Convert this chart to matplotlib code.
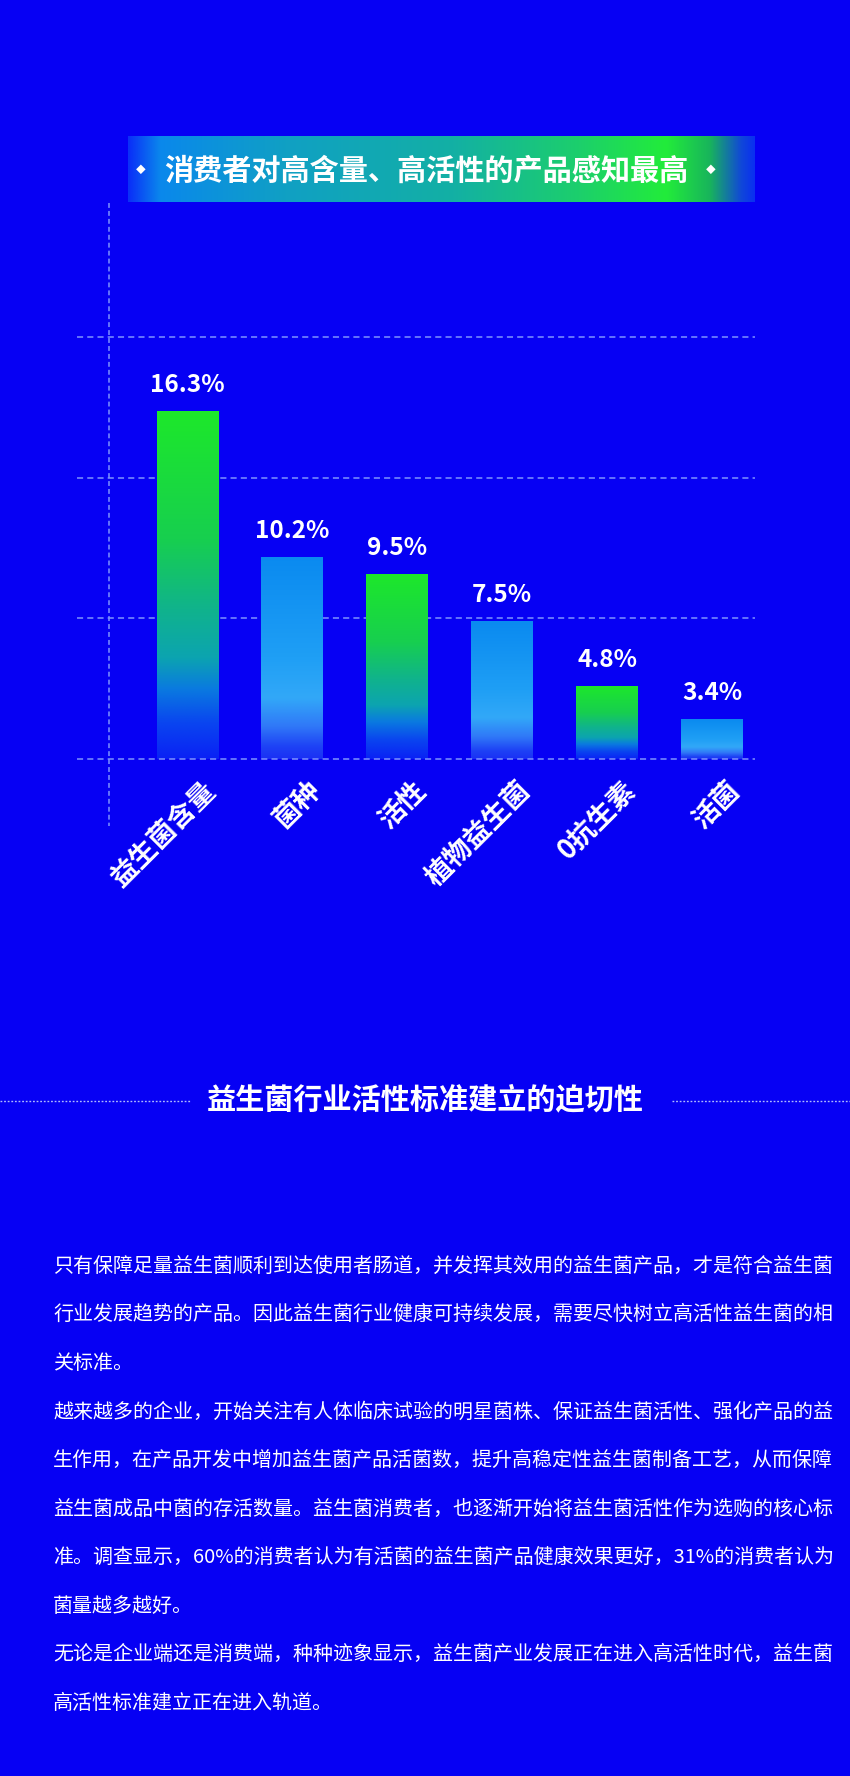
import numpy as np
import matplotlib
matplotlib.use('Agg')
import matplotlib.pyplot as plt
from matplotlib.colors import LinearSegmentedColormap
from matplotlib import transforms
from matplotlib.lines import Line2D

plt.rcParams['font.family'] = ['Noto Sans CJK SC', 'DejaVu Sans']

## chart data
categories = ['益生菌含量', '菌种', '活性', '植物益生菌', '0抗生素', '活菌']
values = [16.3, 10.2, 9.5, 7.5, 4.8, 3.4]
value_labels = ['16.3%', '10.2%', '9.5%', '7.5%', '4.8%', '3.4%']
bar_styles = ['green', 'blue', 'green', 'blue', 'green', 'blue']

## texts
title_text = '消费者对高含量、高活性的产品感知最高'
heading_text = '益生菌行业活性标准建立的迫切性'
body_lines = [
    '只有保障足量益生菌顺利到达使用者肠道，并发挥其效用的益生菌产品，才是符合益生菌',
    '行业发展趋势的产品。因此益生菌行业健康可持续发展，需要尽快树立高活性益生菌的相',
    '关标准。',
    '越来越多的企业，开始关注有人体临床试验的明星菌株、保证益生菌活性、强化产品的益',
    '生作用，在产品开发中增加益生菌产品活菌数，提升高稳定性益生菌制备工艺，从而保障',
    '益生菌成品中菌的存活数量。益生菌消费者，也逐渐开始将益生菌活性作为选购的核心标',
    '准。调查显示，60%的消费者认为有活菌的益生菌产品健康效果更好，31%的消费者认为',
    '菌量越多越好。',
    '无论是企业端还是消费端，种种迹象显示，益生菌产业发展正在进入高活性时代，益生菌',
    '高活性标准建立正在进入轨道。',
]

W, H = 850, 1776
bg = '#0600f4'
grid_c = '#7d93ff'

def fx(px):
    return px / W

def fy(py):
    return 1 - py / H

fig = plt.figure(figsize=(W / 100, H / 100), dpi=100, facecolor=bg)

## gradients
cmaps = {
    'green': LinearSegmentedColormap.from_list('g', [
        (0.0, '#0a22f5'), (0.1, '#0a44f0'), (0.2, '#0a7ae0'), (0.29, '#0ca4b0'),
        (0.43, '#10b38c'), (0.63, '#17cf4f'), (1.0, '#1de82a')]),
    'blue': LinearSegmentedColormap.from_list('b', [
        (0.0, '#1a30f5'), (0.06, '#1e42f5'), (0.16, '#3078f8'), (0.3, '#32a8f8'),
        (0.5, '#1f9ff5'), (1.0, '#0a8af0')]),
}
banner_cmap = LinearSegmentedColormap.from_list('t', [
    (0.0, '#0a30f8'), (0.05, '#0a88ec'), (0.25, '#10a0c4'), (0.52, '#13b0a4'),
    (0.72, '#1ccf6c'), (0.86, '#22ec3a'), (0.93, '#18b45c'), (0.98, '#1048d8'),
    (1.0, '#0a30f0')])

## title banner
axb = fig.add_axes([fx(128), fy(202), fx(754) - fx(128), 66 / H])
axb.imshow(np.linspace(0, 1, 512).reshape(1, -1), cmap=banner_cmap, aspect='auto',
           interpolation='bicubic')
axb.axis('off')
fig.text(fx(426), fy(171), title_text, ha='center', va='center', color='white',
         fontsize=21, fontweight='bold')
for dx in (141, 711):
    fig.text(fx(dx), fy(170), '◆', ha='center', va='center', color='white', fontsize=7)

## bar chart
ax = fig.add_axes([fx(77), fy(759), fx(755) - fx(77), (759 - 203) / H])
ax.set_facecolor('none')
ylo, yhi = 1.74, 25.0
grid_step = 5.88
x = np.arange(len(values))
bars = ax.bar(x, values, width=0.59, color='none', edgecolor='none', zorder=2)
grad = np.linspace(0, 1, 256).reshape(-1, 1)
for b, st in zip(bars, bar_styles):
    x0, w, top = b.get_x(), b.get_width(), b.get_height()
    im = ax.imshow(grad, cmap=cmaps[st], origin='lower', aspect='auto',
                   extent=[x0, x0 + w, ylo, top], zorder=2, interpolation='bicubic')
    im.set_clip_path(b)

ax.set_xlim(-1.053, 5.41)
ax.set_ylim(ylo, yhi)

for k in range(4):
    ax.axhline(ylo + k * grid_step, color=grid_c, lw=1.1, dashes=(4, 2.7),
               zorder=3 if k == 0 else 1, clip_on=False)
trans = transforms.blended_transform_factory(ax.transData, ax.transAxes)
ax.plot([-0.745, -0.745], [1.0, -0.12], transform=trans, color=grid_c, lw=1.1,
        dashes=(3.2, 2.0), clip_on=False, zorder=1)

for xi, v, lbl in zip(x, values, value_labels):
    ax.annotate(lbl, (xi, v), xytext=(0, 10), textcoords='offset points',
                ha='center', va='bottom', color='white', fontsize=17.5, fontweight='bold')

for xi, cat in zip(x, categories):
    ax.annotate(cat, (xi + 0.14, 0), xycoords=trans, xytext=(0, -12),
                textcoords='offset points', rotation=45, rotation_mode='anchor',
                ha='right', va='top', color='white', fontsize=19.5, fontweight='bold',
                annotation_clip=False)

for s in ax.spines.values():
    s.set_visible(False)
ax.set_xticks([])
ax.set_yticks([])

## second section
fig.text(fx(425), fy(1099), heading_text, ha='center', va='center', color='white',
         fontsize=21, fontweight='bold')
for x_a, x_b in ((0, 190), (672, 850)):
    fig.add_artist(Line2D([fx(x_a), fx(x_b)], [fy(1101), fy(1101)], transform=fig.transFigure,
                          color='#b0bcff', lw=1.0, dashes=(1.3, 1.3)))

for i, line in enumerate(body_lines):
    fig.text(fx(53), fy(1266 + 48.6 * i), line, ha='left', va='center', color='white',
             fontsize=14.4)

fig.savefig('out.png', dpi=100, facecolor=bg)
